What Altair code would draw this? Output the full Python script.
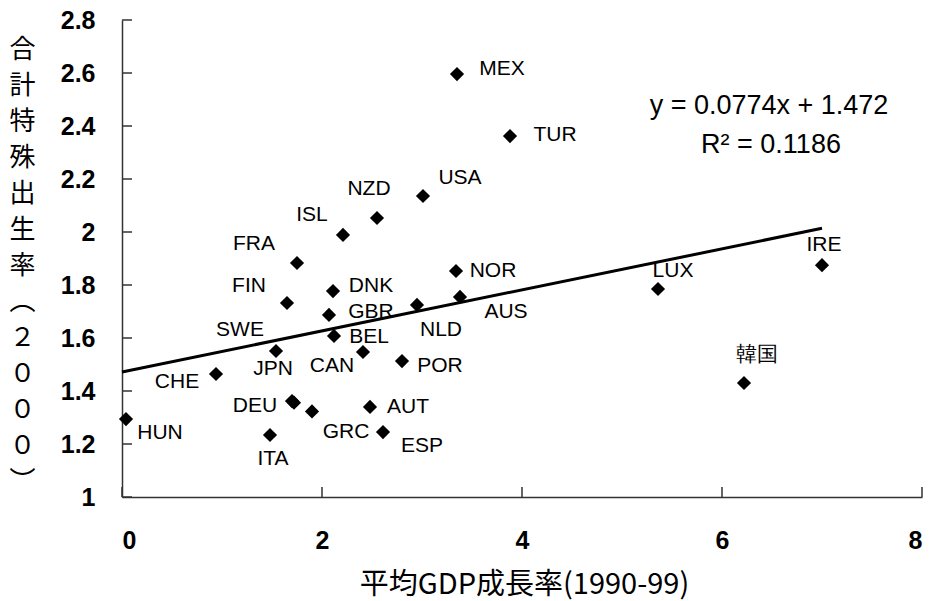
import altair as alt
import pandas as pd

# Average GDP growth 1990-99 (%) vs total fertility rate 2000
countries = ["MEX", "TUR", "USA", "NZD", "ISL", "FRA", "FIN", "DNK", "GBR", "BEL",
             "SWE", "CHE", "HUN", "JPN", "DEU", "GRC", "AUT", "ESP", "ITA", "CAN",
             "POR", "NLD", "AUS", "NOR", "LUX", "IRE", "韓国"]
gdp_growth = [3.35, 3.88, 3.01, 2.55, 2.21, 1.75, 1.65, 2.11, 2.07, 2.12,
              1.54, 0.94, 0.04, 1.72, 1.70, 1.90, 2.48, 2.61, 1.48, 2.41,
              2.80, 2.95, 3.38, 3.34, 5.36, 7.00, 6.22]
fertility = [2.596, 2.362, 2.136, 2.053, 1.989, 1.883, 1.732, 1.777, 1.687, 1.608,
             1.551, 1.464, 1.294, 1.356, 1.362, 1.323, 1.340, 1.245, 1.234, 1.547,
             1.513, 1.725, 1.755, 1.853, 1.785, 1.875, 1.430]

# Linear fit shown on the chart
slope = 0.0774
intercept = 1.472
r_squared = 0.1186
fit_x_range = [0.0, 7.0]

x_ticks = [0, 2, 4, 6, 8]
y_ticks = [1.0, 1.2, 1.4, 1.6, 1.8, 2.0, 2.2, 2.4, 2.6, 2.8]

# Label placement (pixel offsets from each marker)
label_offsets = {
    "MEX": (45, -5), "TUR": (45, -1), "USA": (37, -18), "NZD": (-8, -29),
    "ISL": (-31, -20), "FRA": (-43, -19), "FIN": (-38, -17), "DNK": (38, -5),
    "GBR": (42, -3), "BEL": (35, 1), "SWE": (-36, -21), "CHE": (-39, 8),
    "HUN": (34, 14), "JPN": (-21, -34), "DEU": (-37, 5), "GRC": (34, 21),
    "AUT": (38, 0), "ESP": (39, 14), "ITA": (3, 24), "CAN": (-31, 14),
    "POR": (38, 5), "NLD": (24, 25), "AUS": (46, 15), "NOR": (37, 0),
    "LUX": (15, -18), "IRE": (2, -20), "韓国": (13, -28),
}

W, H = 800, 477
X_DOMAIN = [0, 8]
Y_DOMAIN = [1, 2.8]
LABEL_FONT = "Liberation Sans, Arial, sans-serif"
CJK_FONT = "Noto Sans CJK JP, sans-serif"

points = pd.DataFrame({"country": countries, "gdp": gdp_growth, "tfr": fertility})

# Convert the pixel offsets into data units so labels sit beside their markers
px_x = (X_DOMAIN[1] - X_DOMAIN[0]) / W
px_y = (Y_DOMAIN[1] - Y_DOMAIN[0]) / H
points["label_x"] = [g + label_offsets[c][0] * px_x for c, g in zip(countries, gdp_growth)]
points["label_y"] = [t - label_offsets[c][1] * px_y for c, t in zip(countries, fertility)]

fit = pd.DataFrame({"gdp": fit_x_range})
fit["tfr"] = slope * fit["gdp"] + intercept

x_scale = alt.Scale(domain=X_DOMAIN, nice=False, zero=False)
y_scale = alt.Scale(domain=Y_DOMAIN, nice=False, zero=False)

y_title = list("合計特殊出生率") + ["︵", "２", "０", "０", "０", "︶"]

x_axis = alt.Axis(
    values=x_ticks, grid=False, ticks=False, labelPadding=31,
    labelFont=LABEL_FONT, labelFontSize=25, labelFontWeight="bold", labelColor="#000",
    domainColor="#333", domainWidth=1.5,
    title="平均GDP成長率(1990-99)", titleFont=CJK_FONT, titleFontSize=29,
    titleFontWeight="normal", titleColor="#000",
    titleX=402, titleY=96, titleAlign="center", titleBaseline="alphabetic",
)
y_axis = alt.Axis(
    values=y_ticks, grid=False, ticks=False, labelPadding=27,
    labelExpr="format(datum.value, '.1~f')",
    labelFont=LABEL_FONT, labelFontSize=25, labelFontWeight="bold", labelColor="#000",
    domainColor="#333", domainWidth=1.5,
    title=y_title, titleFont=CJK_FONT, titleFontSize=26, titleFontWeight="normal",
    titleColor="#000", titleAngle=0, titleX=-100, titleY=16,
    titleAlign="center", titleBaseline="top", titleLineHeight=36,
)


def X(field):
    return alt.X(field, scale=x_scale, axis=x_axis)


def Y(field):
    return alt.Y(field, scale=y_scale, axis=y_axis)


markers = alt.Chart(points).mark_point(
    shape="diamond", filled=True, size=200, color="#000", opacity=1
).encode(x=X("gdp:Q"), y=Y("tfr:Q"))

labels = alt.Chart(points).mark_text(
    font=LABEL_FONT, fontSize=21, color="#000", align="center", baseline="middle"
).encode(x=X("label_x:Q"), y=Y("label_y:Q"), text="country:N")

fit_line = alt.Chart(fit).mark_line(color="#000", strokeWidth=3).encode(
    x=X("gdp:Q"), y=Y("tfr:Q")
)

# Inward tick marks on both axes
y_tick_marks = alt.Chart(pd.DataFrame({"v": y_ticks})).mark_rule(
    color="#333", strokeWidth=1.5
).encode(y=Y("v:Q"), x=alt.value(0), x2=alt.value(10))
x_tick_marks = alt.Chart(pd.DataFrame({"v": x_ticks})).mark_rule(
    color="#333", strokeWidth=1.5
).encode(x=X("v:Q"), y=alt.value(H), y2=alt.value(H - 10))

# Regression equation and R² annotation
eq_line = alt.Chart(pd.DataFrame({"t": [f"y = {slope}x + {intercept}"]})).mark_text(
    font=LABEL_FONT, fontSize=27, color="#000", align="center", baseline="middle"
).encode(x=alt.value(647), y=alt.value(86), text="t:N")
r2_line = alt.Chart(pd.DataFrame({"t": [f"R² = {r_squared}"]})).mark_text(
    font=LABEL_FONT, fontSize=27, color="#000", align="center", baseline="middle"
).encode(x=alt.value(649), y=alt.value(125), text="t:N")

chart = alt.layer(
    markers, fit_line, y_tick_marks, x_tick_marks, labels, eq_line, r2_line
).properties(
    width=W, height=H,
    autosize=alt.AutoSizeParams(type="none"),
    padding={"left": 122, "top": 20, "right": 11, "bottom": 104},
    background="white",
).configure_view(stroke=None)

chart.save("out.html", embed_options={"renderer": "svg", "actions": False})
